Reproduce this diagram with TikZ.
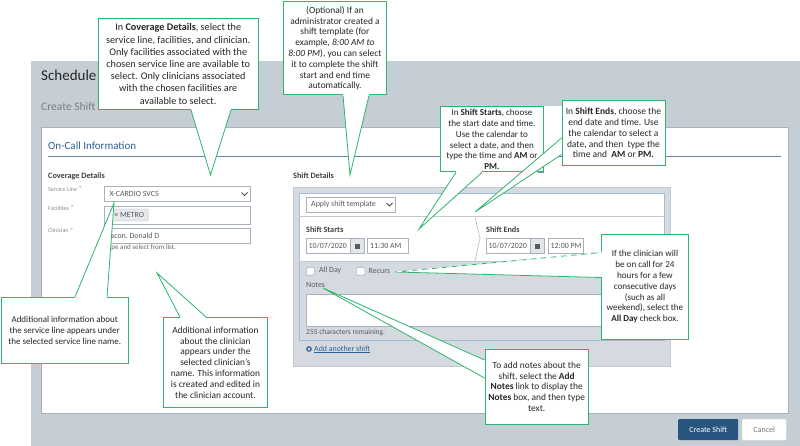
\documentclass[tikz,border=0pt]{standalone}
\usepackage{fontspec}
\setmainfont{Carlito}
\usetikzlibrary{calc,positioning}
\definecolor{panelgrey}{HTML}{C5CDD5}
\definecolor{shiftgrey}{HTML}{D5DAE1}
\definecolor{boxline}{HTML}{A9B2BC}
\definecolor{headblue}{HTML}{2F5F92}
\definecolor{rowblue}{HTML}{9FBDDA}
\definecolor{tipgreen}{HTML}{2DB56B}
\definecolor{btnblue}{HTML}{27557F}
\newcommand{\calltail}[3]{%
  \fill[white] (#1) -- (#2) -- (#3) -- cycle;
  \draw[white,line width=1.8pt] (#1) -- (#3);
  \draw[tailline] (#1) -- (#2) -- (#3);
}
\newcommand{\tipfont}[1]{\fontsize{#1}{10.8}\selectfont}
\begin{document}
\begin{tikzpicture}[
  x=1pt,y=-1pt,
  every node/.style={font=\tipfont{9.4},inner sep=0pt,text=black!85},
  callout/.style={draw=tipgreen,line width=0.9pt,fill=white,align=center,anchor=north west},
  tailline/.style={draw=tipgreen,line width=0.8pt,line join=miter},
  fadeline/.style={draw=white,line width=0.9pt,dash pattern=on 5pt off 5pt},
  field/.style={draw=boxline,fill=white,line width=0.6pt,anchor=north west},
  lbl/.style={anchor=west,font=\fontsize{7.9}{9}\selectfont,text=black!65},
  faint/.style={anchor=west,font=\fontsize{6}{7}\selectfont,text=black!45},
  subhead/.style={anchor=west,font=\bfseries\fontsize{8.2}{10}\selectfont,text=black!75}
]
  \useasboundingbox (0,0) rectangle (800,446);

  % Form background
  \fill[panelgrey] (31,61) rectangle (800,446);
  \draw[boxline,fill=white,line width=0.7pt] (41.5,127.5) rectangle (788,413.5);
  \fill[white] (543,106) rectangle (562,128);
  \node[anchor=west,font=\fontsize{15}{17}\selectfont] (schedule) at (41,75) {Schedule};
  \node[anchor=west,font=\fontsize{11.5}{14}\selectfont,text=black!50] (createhead) at (41,107) {Create Shift};
  \node[anchor=west,font=\fontsize{11}{13}\selectfont,text=headblue] (oncall) at (48,145.5) {On-Call Information};
  \draw[headblue!75,line width=0.6pt] (48,156.5) -- (781,156.5);

  % Coverage details
  \node[subhead] (coverage) at (48,176) {Coverage Details};
  \node[faint] (servlbl) at (48,189) {Service Line $^{*}$};
  \node[faint] (faclbl) at (48,208) {Facilities $^{*}$};
  \node[faint] (clinlbl) at (48,230.5) {Clinician $^{*}$};
  \node[field,minimum width=146pt,minimum height=15pt] (servbox) at (104,186.5) {};
  \node[lbl,right=5.5pt of servbox.west] (servtxt) {X-CARDIO SVCS};
  \draw[black!70,line width=0.9pt] (241.5,192.5) -- (244.5,195.5) -- (247.5,192.5);
  \node[field,minimum width=146pt,minimum height=18pt] (facbox) at (104,206) {};
  \node[draw=boxline,fill=shiftgrey!60,rounded corners=1pt,minimum width=38pt,minimum height=12pt,lbl,align=center] (chip) at (110,215) {× METRO};
  \node[field,minimum width=146pt,minimum height=15pt] (clinbox) at (104,228) {};
  \node[lbl,right=2pt of clinbox.west] (clintxt) {Bacon, Donald D};
  \node[faint,font=\fontsize{7}{8}\selectfont,text=black!60] (clinhint) at (105,248) {Type and select from list.};

  % Shift details
  \node[subhead] (shifthead) at (293,176) {Shift Details};
  \draw[boxline!70,fill=shiftgrey,line width=0.7pt] (293,187) rectangle (670.5,366);
  \draw[rowblue,fill=shiftgrey,line width=0.8pt] (299,193.5) rectangle (664,340);
  \fill[white] (299.5,194) rectangle (663.5,261);
  \draw[boxline!70,line width=0.6pt] (299,216.5) -- (664,216.5);
  \draw[boxline!70,line width=0.6pt] (299,261) -- (664,261);
  \node[field,minimum width=89pt,minimum height=15pt] (applybox) at (306,197) {};
  \node[lbl,right=5pt of applybox.west] (applytxt) {Apply shift template};
  \draw[black!70,line width=0.9pt] (386.5,203) -- (389.5,206) -- (392.5,203);
  \draw[boxline,line width=0.5pt] (475,217) -- (480,238) -- (475,261);

  \node[subhead] (startshead) at (306,230) {Shift Starts};
  \node[field,minimum width=44pt,minimum height=15pt] (startdate) at (306,238.5) {};
  \node[lbl,right=2.5pt of startdate.west] (startdatetxt) {10/07/2020};
  \node[field,fill=shiftgrey!70,minimum width=14pt,minimum height=15pt] (startcal) at (350,238.5) {};
  \fill[black!65] ($(startcal.center)+(-2.5,-2.5)$) rectangle ($(startcal.center)+(2.5,2.5)$);
  \node[field,minimum width=41pt,minimum height=15pt] (starttime) at (367,238.5) {};
  \node[lbl,right=3pt of starttime.west] (starttimetxt) {11:30 AM};
  \node[subhead] (endshead) at (486,230) {Shift Ends};
  \node[field,minimum width=44pt,minimum height=15pt] (enddate) at (486,238.5) {};
  \node[lbl,right=2.5pt of enddate.west] (enddatetxt) {10/07/2020};
  \node[field,fill=shiftgrey!70,minimum width=14pt,minimum height=15pt] (endcal) at (530,238.5) {};
  \fill[black!65] ($(endcal.center)+(-2.5,-2.5)$) rectangle ($(endcal.center)+(2.5,2.5)$);
  \node[field,minimum width=35pt,minimum height=15pt] (endtime) at (547.5,238.5) {};
  \node[lbl,right=3pt of endtime.west] (endtimetxt) {12:00 PM};

  \node[field,rounded corners=1pt,minimum size=8pt] (allcheck) at (306,267) {};
  \node[lbl] (alltxt) at (319,270) {All Day};
  \node[field,rounded corners=1pt,minimum size=8pt] (reccheck) at (356.5,267) {};
  \node[lbl] (rectxt) at (368.5,271) {Recurs};
  \node[lbl] (notestxt) at (306,285) {Notes};
  \node[field,minimum width=350pt,minimum height=32pt] (notesbox) at (306,293.5) {};
  \node[lbl,font=\fontsize{7.5}{9}\selectfont] (remain) at (306,333) {255 characters remaining.};
  \draw[headblue,line width=1.2pt] (309,349) circle (2.2pt);
  \node[lbl,text=headblue] (addshift) at (314,349.5) {\underline{Add another shift}};

  % Buttons
  \node[fill=btnblue,rounded corners=1pt,minimum width=60pt,minimum height=21pt,text=white,font=\fontsize{8}{9}\selectfont,anchor=north west] (createbtn) at (678,419) {Create Shift};
  \node[draw=black!10,fill=white,rounded corners=1pt,minimum width=44pt,minimum height=21pt,text=black!55,font=\fontsize{8}{9}\selectfont,anchor=north west] (cancelbtn) at (742,419) {Cancel};

  % Callouts
  \coordinate (covtip)   at (210.5,175);
  \coordinate (opttip)   at (350,175);
  \coordinate (startip)  at (419,229);
  \coordinate (endtip)   at (475,212);
  \coordinate (daytip)   at (395,272);
  \coordinate (notetip)  at (323,288);
  \coordinate (linetip)  at (114,203);
  \coordinate (clintip)  at (157,273);

  \node[callout,minimum width=160.5pt,minimum height=91pt,font=\fontsize{10.2}{12.2}\selectfont] (covtxt) at (97.5,18) {In \textbf{Coverage Details}, select the\\service line, facilities, and clinician.\\Only facilities associated with the\\chosen service line are available to\\select. Only clinicians associated\\with the chosen facilities are\\available to select.};
  \calltail{$(covtxt.south west)+(93.5,0)$}{covtip}{$(covtxt.south west)+(133.5,0)$}

  \node[callout,minimum width=103pt,minimum height=93pt] (opttxt) at (283,1.5) {(Optional) If an\\administrator created a\\shift template (for\\example, \textit{8:00 AM to}\\\textit{8:00 PM}), you can select\\it to complete the shift\\start and end time\\automatically.};
  \calltail{$(opttxt.south west)+(60,0)$}{opttip}{$(opttxt.south west)+(86,0)$}

  \fill[black!45] (538,168) rectangle (544,173);
  \node[callout,minimum width=103pt,minimum height=65pt,font=\tipfont{9.1}] (starttxt) at (440,106.5) {In \textbf{Shift Starts}, choose\\the start date and time.\\Use the calendar to\\select a date, and then\\type the time and \textbf{AM} or\\\textbf{PM.}};
  \calltail{$(starttxt.south west)+(16,0)$}{startip}{$(starttxt.south west)+(42,0)$}

  \node[callout,minimum width=103pt,minimum height=65pt,font=\tipfont{9.5}] (endtxt) at (561.5,100) {In \textbf{Shift Ends}, choose the\\end date and time. Use\\the calendar to select a\\date, and then\ \ type the\\time and \ \textbf{AM} or \textbf{PM.}};
  \calltail{$(endtxt.north west)+(0,38)$}{endtip}{$(endtxt.north west)+(0,54.5)$}

  \node[callout,minimum width=87pt,minimum height=104pt,font=\tipfont{9.1}] (daytxt) at (601,234.5) {If the clinician will\\be on call for 24\\hours for a few\\consecutive days\\(such as all\\weekend), select the\\\textbf{All Day} check box.};
  \calltail{$(daytxt.north west)+(0,18)$}{daytip}{$(daytxt.north west)+(0,43)$}
  \draw[fadeline] ($(daytxt.north west)+(0,18)$) -- (daytip);

  \node[callout,minimum width=103.5pt,minimum height=74.5pt] (notetxt) at (484.5,349) {To add notes about the\\shift, select the \textbf{Add}\\\textbf{Notes} link to display the\\\textbf{Notes} box, and then type\\text.};
  \calltail{$(notetxt.north west)+(0,11)$}{notetip}{$(notetxt.north west)+(0,29)$}

  \node[callout,minimum width=127.5pt,minimum height=66pt,font=\tipfont{9}] (linetxt) at (0.5,297) {Additional information about\\the service line appears under\\the selected service line name.};
  \calltail{$(linetxt.north west)+(74.5,0)$}{linetip}{$(linetxt.north west)+(106.5,0)$}

  \node[callout,minimum width=104pt,minimum height=90pt] (clinnote) at (163,317) {Additional information\\about the clinician\\appears under the\\selected clinician’s\\name. This information\\is created and edited in\\the clinician account.};
  \calltail{$(clinnote.north west)+(17,0)$}{clintip}{$(clinnote.north west)+(43,0)$}
\end{tikzpicture}
\end{document}
